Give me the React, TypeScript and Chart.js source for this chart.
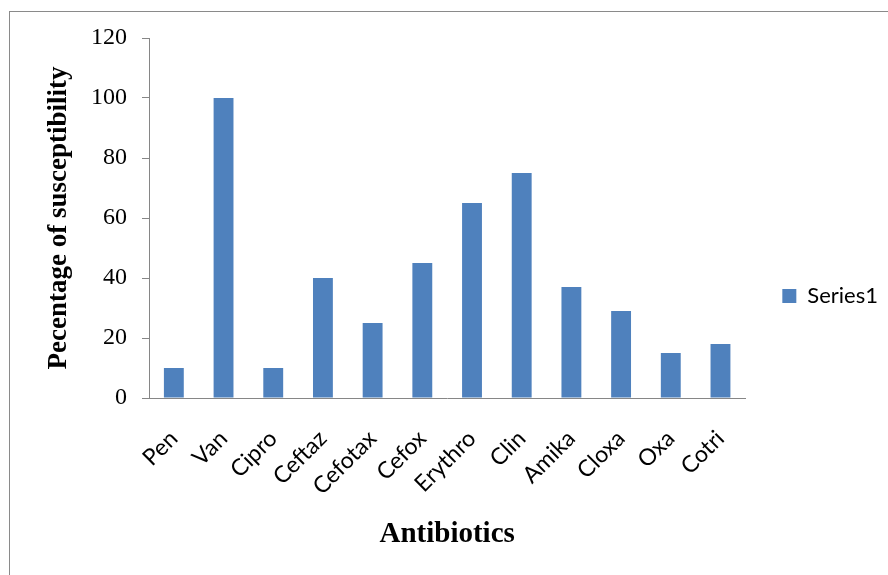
import React, { useEffect, useRef } from "react";
import { Chart, registerables } from "chart.js";

Chart.register(...registerables);

const categories = ["Pen", "Van", "Cipro", "Ceftaz", "Cefotax", "Cefox", "Erythro", "Clin", "Amika", "Cloxa", "Oxa", "Cotri"];
const seriesName = "Series1";
const seriesValues = [10, 100, 10, 40, 25, 45, 65, 75, 37, 29, 15, 18];
const yTickMin = 0;
const yTickMax = 120;
const yTickStep = 20;
const xTitle = "Antibiotics";
const yTitle = "Pecentage of susceptibility";

export default function App() {
  const ref = useRef<HTMLCanvasElement | null>(null);

  useEffect(() => {
    if (!ref.current) return;
    const chart = new Chart(ref.current, {
      type: "bar",
      data: {
        labels: categories,
        datasets: [
          {
            label: seriesName,
            data: seriesValues,
            backgroundColor: "#4F81BD",
            borderWidth: 0,
            barPercentage: 0.4,
            categoryPercentage: 1.0,
          },
        ],
      },
      options: {
        animation: false,
        responsive: false,
        maintainAspectRatio: false,
        layout: { padding: { left: 0, top: 38, right: 0, bottom: 21 } },
        plugins: {
          tooltip: { enabled: false },
          legend: {
            position: "right",
            align: "center",
            labels: {
              boxWidth: 14,
              boxHeight: 14,
              padding: 37,
              color: "#000",
              font: { family: "Lato", size: 22 },
            },
          },
        },
        scales: {
          x: {
            afterFit: (scale: any) => {
              scale.height = 156;
            },
            grid: { display: false, drawTicks: false },
            border: { display: true, color: "#868686", width: 1 },
            ticks: {
              autoSkip: false,
              minRotation: 45,
              maxRotation: 45,
              padding: 27,
              color: "#000",
              font: { family: "Lato", size: 23 },
            },
            title: {
              display: true,
              text: xTitle,
              color: "#000",
              font: { family: "Liberation Serif", size: 29, weight: "bold" },
              padding: { top: 0, bottom: 2 },
            },
          },
          y: {
            min: yTickMin,
            max: yTickMax,
            afterFit: (scale: any) => {
              scale.width = 149;
            },
            grid: {
              display: true,
              drawOnChartArea: false,
              drawTicks: true,
              tickLength: 7,
              color: "#868686",
            },
            border: { display: true, color: "#868686", width: 1 },
            ticks: {
              stepSize: yTickStep,
              padding: 15,
              color: "#000",
              font: { family: "Liberation Serif", size: 24 },
            },
            title: {
              display: true,
              text: yTitle,
              color: "#000",
              font: { family: "Liberation Serif", size: 27, weight: "bold" },
              padding: { top: 43, bottom: 0 },
            },
          },
        },
      },
    });
    return () => chart.destroy();
  }, []);

  return (
    <div style={{ position: "absolute", left: 0, top: 0, width: 888, height: 575, background: "#fff", overflow: "hidden" }}>
      <div
        style={{
          position: "absolute",
          left: 9,
          top: 11,
          width: 879,
          height: 564,
          boxSizing: "border-box",
          borderLeft: "1px solid #8a8a8a",
          borderTop: "1px solid #8a8a8a",
        }}
      />
      <canvas ref={ref} width={888} height={575} style={{ position: "absolute", left: 0, top: 0, width: 888, height: 575 }} />
    </div>
  );
}
